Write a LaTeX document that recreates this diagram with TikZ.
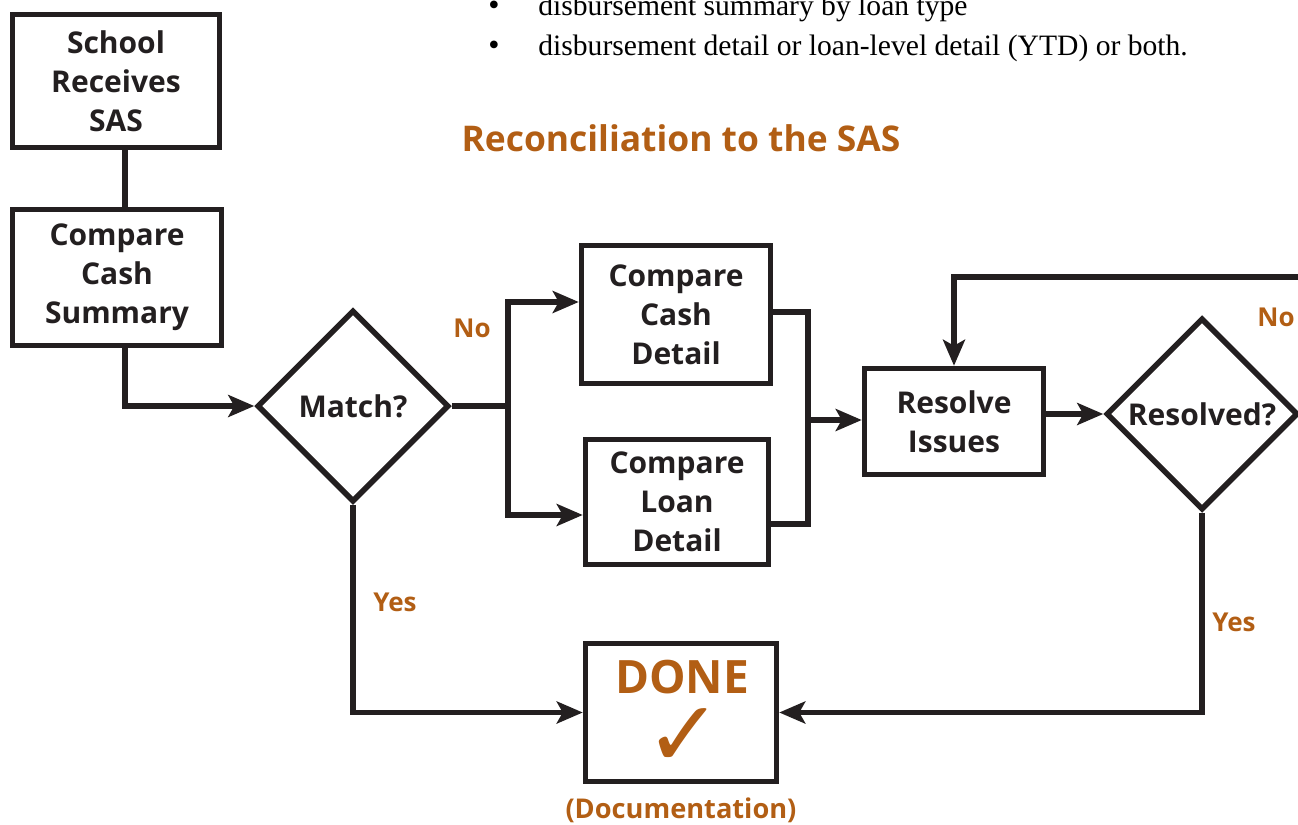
\documentclass[tikz,border=0pt]{standalone}
\usepackage{fontspec}
\setmainfont{Liberation Serif}
\newfontfamily\chartfont{Open Sans}
\newfontfamily\tickfont{DejaVu Sans}
\usetikzlibrary{arrows.meta,shapes.geometric}

\definecolor{rust}{RGB}{178,94,20}
\definecolor{ink}{RGB}{35,31,32}

\newlength{\du}
\setlength{\du}{0.5pt}

\tikzset{
  stepbox/.style={draw=ink, line width=5.5\du, inner sep=0pt, align=center,
    font=\chartfont\bfseries\fontsize{15}{19.5}\selectfont, text=ink},
  decision/.style={diamond, draw=ink, line width=5.5\du, inner sep=0pt, aspect=1,
    minimum width=192\du, minimum height=192\du,
    font=\chartfont\bfseries\fontsize{15}{19.5}\selectfont, text=ink},
  flow/.style={draw=ink, line width=5.5\du, -{Stealth[length=13pt, width=11pt, inset=3pt]}},
  link/.style={draw=ink, line width=5.5\du},
  answer/.style={font=\chartfont\bfseries\fontsize{13}{15}\selectfont, text=rust},
  bullettext/.style={anchor=base west, inner sep=0pt, font=\fontsize{14.8}{20}\selectfont},
}

\begin{document}
\begin{tikzpicture}
\pgftransformyscale{-1.000000}
\useasboundingbox (0,0) rectangle (1298\du,825\du);

% bullet text running above the chart
\node[bullettext] (bulleta) at (538\du,15\du) {disbursement summary by loan type};
\node[bullettext] (bulletb) at (538\du,55\du) {disbursement detail or loan-level detail (YTD) or both.};
\node[font=\fontsize{16}{20}\selectfont] (dota) at (494\du,8\du) {\textbullet};
\node[font=\fontsize{16}{20}\selectfont] (dotb) at (494\du,48\du) {\textbullet};

% heading
\node[font=\chartfont\bfseries\fontsize{17.7}{22}\selectfont, text=rust] (heading) at (681\du,138\du) {Reconciliation to the SAS};

% boxes
\node[stepbox, minimum width=207\du, minimum height=133\du] (sas) at (116\du,81\du) {School\\Receives\\SAS};
\node[stepbox, minimum width=209\du, minimum height=136\du] (cashsum) at (117\du,277.5\du) {Compare\\Cash\\Summary};
\node[decision] (match) at (353\du,406\du) {Match?};
\node[stepbox, minimum width=189\du, minimum height=138\du] (cashdet) at (676\du,314.5\du) {Compare\\Cash\\Detail};
\node[stepbox, minimum width=183\du, minimum height=125\du] (loandet) at (677\du,502\du) {Compare\\Loan\\Detail};
\node[stepbox, minimum width=179\du, minimum height=106\du] (resolve) at (954\du,421.5\du) {Resolve\\Issues};
\node[decision] (resolved) at (1202\du,414\du) {Resolved?};
\node[stepbox, minimum width=191\du, minimum height=138\du] (done) at (681\du,712.5\du) {};
\node[font=\chartfont\bfseries\fontsize{23}{26}\selectfont, text=rust] (donetext) at (682\du,677\du) {DONE};
\node[font=\tickfont\fontsize{46}{48}\selectfont, text=rust] (tick) at (684\du,738\du) {✓};
\node[font=\chartfont\bfseries\fontsize{13.6}{15}\selectfont, text=rust] (doc) at (681\du,810\du) {(Documentation)};

% helper points for the bends
\coordinate (trunk) at (125\du,0);
\coordinate (fork) at (508\du,406\du);
\coordinate (upper) at (0,302\du);
\coordinate (lower) at (0,515\du);
\coordinate (join) at (808\du,420\du);
\coordinate (topout) at (0,312\du);
\coordinate (botout) at (0,524\du);

% connectors
\draw[link] (sas.south -| trunk) -- (cashsum.north -| trunk);
\draw[flow] (cashsum.south -| trunk) |- (match.west);
\draw[link] (match.east) -- (fork);
\draw[flow] (fork) |- (cashdet.west |- upper);
\draw[flow] (fork) |- (loandet.west |- lower);
\draw[link] (cashdet.east |- topout) -| (join |- botout) -- (loandet.east |- botout);
\draw[flow] (join) -- (resolve.west |- join);
\draw[flow] (resolve.east |- resolved.west) -- (resolved.west);
\draw[flow] (resolved.east) -- ++(30\du,0) -- ++(0,-137\du) -| (resolve.north);
\draw[flow] (resolved.south) |- (done.east);
\draw[flow] (match.south) |- (done.west);

% answers on the branches
\node[answer] (nomatch) at (472\du,328\du) {No};
\node[answer] (yesmatch) at (395\du,602\du) {Yes};
\node[answer] (noresolved) at (1276\du,317\du) {No};
\node[answer] (yesresolved) at (1234\du,622\du) {Yes};
\end{tikzpicture}
\end{document}
